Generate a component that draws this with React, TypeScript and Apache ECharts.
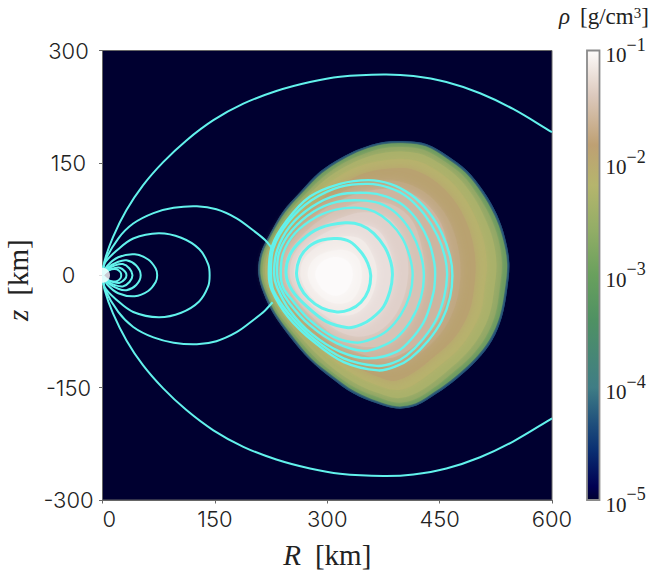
import React, { useEffect, useRef } from "react";
import * as echarts from "echarts";

type P = [number, number];

const xTicks = { min: 0, max: 600, interval: 150 };
const yTicks = { min: -300, max: 300, interval: 150 };

const colorStops: [number, string][] = [
  [0, "#000030"], [0.03, "#000052"], [0.11, "#0a2f72"], [0.17, "#1f4f7c"], [0.25, "#3f7d85"],
  [0.4, "#4f9163"], [0.5, "#69a05d"], [0.6, "#92ad66"], [0.7, "#b5b56d"], [0.79, "#bea073"],
  [0.9, "#dcc9bd"], [1, "#fdfbfa"],
];

const densityColors = ["#1f4a7a", "#6d9b60", "#8ea665", "#a9b16a", "#b7b26d", "#b9a270", "#c0a882", "#cdb5a0", "#d6c3b6", "#e0d0ca", "#e9dedb", "#f2ebe8", "#f8f4f2", "#fcfafa"];

const c1: P[] = [[208,2],[211,29],[224,56],[241,85],[264,111],[290,138],[317,156],[344,169],[375,178],[406,179],[433,175],[460,160],[486,140],[508,113],[526,82],[537,51],[543,16],[540,-20],[533,-56],[520,-87],[500,-113],[473,-138],[446,-158],[419,-174],[393,-178],[366,-171],[335,-158],[304,-136],[277,-113],[250,-82],[228,-51],[215,-24]];
const c2: P[] = [[211,2],[214,29],[227,56],[244,84],[267,110],[293,136],[320,154],[347,167],[376,175],[406,176],[432,172],[458,157],[484,137],[505,111],[523,80],[534,50],[540,16],[537,-19],[530,-55],[517,-85],[497,-111],[471,-135],[444,-155],[418,-171],[393,-175],[367,-168],[337,-155],[306,-133],[279,-111],[253,-80],[231,-50],[218,-23]];
const c2b: P[] = [[214,2],[217,28],[230,55],[247,82],[270,107],[296,132],[322,150],[349,162],[377,170],[406,171],[430,167],[455,153],[480,134],[500,108],[517,79],[528,49],[533,16],[530,-18],[524,-53],[511,-83],[492,-108],[466,-131],[441,-151],[416,-166],[393,-170],[369,-163],[339,-151],[308,-130],[282,-108],[256,-78],[234,-49],[221,-23]];
const c3: P[] = [[217,2],[220,28],[232,54],[250,80],[272,104],[298,128],[324,145],[350,157],[378,164],[405,165],[428,161],[452,148],[475,130],[495,105],[510,77],[521,48],[526,15],[523,-18],[517,-51],[504,-80],[486,-104],[461,-127],[437,-146],[413,-160],[392,-164],[370,-158],[341,-146],[310,-126],[285,-104],[258,-75],[237,-47],[224,-22]];
const c4: P[] = [[221,2],[225,26],[237,50],[255,76],[277,99],[302,122],[328,139],[354,149],[380,154],[404,155],[425,151],[447,139],[468,122],[486,99],[500,72],[509,45],[513,14],[510,-17],[505,-48],[492,-76],[475,-99],[451,-120],[429,-137],[408,-150],[390,-153],[371,-148],[344,-137],[314,-118],[290,-97],[264,-70],[243,-44],[229,-20]];
const c5: P[] = [[226,2],[230,24],[242,46],[260,70],[282,91],[306,113],[331,128],[356,138],[380,142],[403,143],[422,138],[442,127],[460,111],[476,90],[488,65],[495,40],[498,12],[496,-16],[491,-44],[479,-70],[463,-91],[441,-110],[421,-126],[402,-137],[387,-141],[370,-136],[346,-126],[318,-108],[295,-89],[270,-64],[249,-40],[234,-18]];
const c6: P[] = [[231,2],[236,28],[252,56],[279,85],[312,107],[350,122],[390,126],[428,112],[456,84],[472,48],[478,5],[471,-40],[451,-78],[418,-108],[385,-122],[345,-115],[312,-97],[280,-70],[254,-42],[237,-16]];
const c7: P[] = [[236,2],[241,27],[257,52],[284,79],[315,99],[352,112],[390,115],[423,103],[448,76],[460,44],[464,4],[458,-38],[440,-72],[410,-99],[380,-111],[345,-105],[314,-89],[285,-65],[258,-38],[241,-15]];
const c8: P[] = [[243,2],[247,26],[262,48],[288,72],[317,88],[350,98],[384,95],[411,76],[425,42],[430,2],[423,-38],[405,-72],[380,-92],[345,-95],[315,-84],[288,-63],[263,-38],[247,-15]];
const c9: P[] = [[250,2],[254,24],[268,44],[292,64],[320,77],[348,84],[378,78],[397,58],[406,30],[408,2],[402,-30],[388,-57],[368,-75],[342,-82],[316,-75],[292,-57],[270,-37],[255,-15]];
const c10: P[] = [[256,2],[260,22],[274,40],[296,56],[322,66],[346,68],[368,60],[381,40],[388,15],[388,-10],[380,-35],[365,-56],[345,-68],[320,-67],[296,-53],[275,-35],[262,-14]];
const c11: P[] = [[264,2],[268,20],[282,35],[302,46],[325,52],[345,48],[358,32],[366,8],[363,-18],[352,-40],[335,-52],[315,-53],[295,-44],[278,-28],[268,-12]];
const c12: P[] = [[274,2],[278,16],[290,27],[308,33],[326,33],[340,24],[346,6],[344,-14],[334,-32],[318,-38],[300,-34],[286,-23],[277,-10]];
const c13: P[] = [[284,2],[289,14],[300,22],[315,24],[328,18],[334,4],[331,-12],[322,-24],[308,-27],[295,-20],[287,-9]];
const densityContours = [c1, c2, c2b, c3, c4, c5, c6, c7, c8, c9, c10, c11, c12, c13];

const loopA: P[] = [[259,2],[263,22],[275,38],[293,47],[313,49],[330,45],[345,31],[354,16],[358,0],[355,-20],[345,-36],[330,-46],[313,-49],[293,-44],[275,-31],[264,-16]];
const loopB: P[] = [[245,2],[250,27],[266,47],[290,63],[324,70],[345,67],[362,56],[377,37],[385,17],[387,0],[384,-20],[375,-42],[359,-58],[345,-66],[328,-70],[299,-62],[273,-42],[253,-20]];
const loopC: P[] = [[238,2],[241,29],[257,56],[286,78],[313,88],[342,90],[363,85],[383,71],[400,50],[410,25],[414,0],[410,-27],[398,-53],[380,-74],[360,-85],[339,-90],[308,-82],[277,-60],[253,-33],[241,-16]];
const loopD: P[] = [[233,2],[236,31],[253,60],[282,85],[313,98],[344,100],[370,96],[393,82],[412,58],[424,30],[429,0],[425,-30],[412,-60],[392,-84],[370,-96],[348,-101],[313,-91],[277,-67],[250,-38],[237,-16]];
const loopE: P[] = [[229,2],[233,33],[250,65],[279,91],[313,107],[353,110],[379,105],[402,93],[422,71],[436,44],[443,16],[444,0],[442,-22],[431,-58],[415,-82],[393,-102],[355,-111],[317,-102],[279,-78],[250,-47],[233,-16]];
const loopF: P[] = [[225,2],[228,36],[248,71],[279,100],[317,118],[355,122],[382,117],[406,105],[429,82],[447,53],[457,25],[460,0],[456,-29],[446,-58],[428,-85],[406,-107],[388,-117],[366,-121],[322,-111],[282,-85],[250,-53],[228,-20]];
const loopG: P[] = [[222,2],[226,38],[246,73],[277,105],[317,122],[355,127],[384,122],[411,108],[435,85],[453,56],[464,25],[467,0],[464,-29],[453,-60],[435,-87],[411,-111],[393,-121],[368,-127],[322,-116],[282,-89],[248,-56],[226,-20]];
const torusLoops = [loopA, loopB, loopC, loopD, loopE, loopF, loopG];

const outerTop: P[] = [[0,0],[3,20],[14,51],[32,87],[54,120],[81,151],[112,180],[148,207],[188,229],[232,246],[277,258],[317,265],[375,268],[415,266],[459,258],[504,243],[548,222],[600,191]];
const outerBottom: P[] = [[0,0],[3,-20],[14,-51],[32,-87],[54,-120],[81,-151],[112,-180],[148,-207],[188,-229],[232,-246],[277,-258],[317,-265],[375,-268],[415,-266],[459,-258],[504,-243],[548,-222],[600,-191]];
const gapTop: P[] = [[0,0],[3,18],[21,49],[41,69],[68,83],[95,90],[126,92],[152,88],[179,76],[201,60],[217,47],[227,35]];
const gapBottom: P[] = [[0,0],[3,-18],[21,-49],[41,-69],[68,-83],[95,-90],[126,-92],[152,-88],[179,-76],[201,-60],[217,-47],[227,-36]];
const dipole1: P[] = [[0,0],[3,16],[19,33],[41,49],[75,56],[105,50],[129,35],[141,15],[143,0],[141,-15],[129,-35],[105,-50],[75,-56],[41,-49],[19,-33],[3,-16],[0,0]];
const dipole2: P[] = [[0,0],[6,12],[21,24],[43,28],[61,21],[71,9],[73,0],[71,-9],[61,-21],[43,-28],[21,-24],[6,-12],[0,0]];
const dipole3: P[] = [[0,0],[7,10],[21,18],[32,20],[45,13],[51,0],[45,-13],[32,-20],[21,-18],[7,-10],[0,0]];
const dipole4: P[] = [[0,0],[7,8],[16,13],[27,15],[36,9],[40,0],[36,-9],[27,-15],[16,-13],[7,-8],[0,0]];
const dipole5: P[] = [[0,0],[6,6],[14,9],[23,10],[30,5],[32,0],[30,-5],[23,-10],[14,-9],[6,-6],[0,0]];
const dipole6: P[] = [[0,0],[6,5],[12,8],[19,8],[24,4],[25,0],[24,-4],[19,-8],[12,-8],[6,-5],[0,0]];
const fieldLines = [outerTop, outerBottom, gapTop, gapBottom, dipole1, dipole2, dipole3, dipole4, dipole5, dipole6];

const innerBoundary: P[] = [[0, 0]];
const cbTicks = [1e-5, 1e-4, 1e-3, 1e-2, 1e-1];

const LINE = "#62f2ec";
const SERIF = "'Liberation Serif', serif";
const SANS = "Inter, 'Noto Sans', sans-serif";
const AXIS = "#666666";

// Draws a smooth curve through the read points, in pixel space.
function splineD(pts: number[][], closed: boolean) {
  const n = pts.length;
  const at = (i: number) => (closed ? pts[(i + n) % n] : pts[Math.max(0, Math.min(n - 1, i))]);
  const tangent = (i: number) => {
    const a = at(i - 1), b = at(i + 1);
    const dx = b[0] - a[0], dy = b[1] - a[1];
    const len = Math.hypot(dx, dy) || 1;
    return [dx / len, dy / len];
  };
  let d = `M${pts[0][0]} ${pts[0][1]}`;
  const segs = closed ? n : n - 1;
  for (let i = 0; i < segs; i++) {
    const p = at(i), q = at(i + 1);
    const len = Math.hypot(q[0] - p[0], q[1] - p[1]) / 3;
    const t0 = tangent(i), t1 = tangent(i + 1);
    d += `C${p[0] + t0[0] * len} ${p[1] + t0[1] * len} ${q[0] - t1[0] * len} ${q[1] - t1[1] * len} ${q[0]} ${q[1]}`;
  }
  return closed ? d + "Z" : d;
}

function curveSeries(points: P[], closed: boolean, style: any) {
  return {
    type: "custom",
    xAxisIndex: 0,
    yAxisIndex: 0,
    silent: true,
    clip: true,
    coordinateSystem: "cartesian2d",
    data: [points[0]],
    renderItem: (_: any, api: any) => ({
      type: "path",
      shape: { pathData: splineD(points.map((p) => api.coord(p)), closed) },
      style,
    }),
  };
}

export default function App() {
  const ref = useRef<HTMLDivElement>(null);
  useEffect(() => {
    const chart = echarts.init(ref.current!, undefined, { renderer: "svg" });
    const series: any[] = [];
    densityContours.forEach((pts, i) => {
      series.push(curveSeries(pts, true, { fill: densityColors[i], shadowBlur: i === 0 ? 1 : i < 3 ? 3 : 9, shadowColor: densityColors[i] }));
    });
    torusLoops.forEach((pts, i) => {
      series.push(curveSeries(pts, true, { fill: "none", stroke: LINE, lineWidth: i < 2 ? 3 : 2.4 }));
    });
    fieldLines.forEach((pts) => {
      series.push(curveSeries(pts, false, { fill: "none", stroke: LINE, lineWidth: 2 }));
    });
    series.push({
      type: "scatter",
      xAxisIndex: 0,
      yAxisIndex: 0,
      data: innerBoundary,
      symbol: "circle",
      symbolSize: 15,
      silent: true,
      clip: false,
      itemStyle: { color: "#ffffff" },
      z: 5,
    });
    series.push({
      type: "custom",
      xAxisIndex: 1,
      yAxisIndex: 1,
      silent: true,
      data: [[0, cbTicks[0]]],
      renderItem: (_: any, api: any) => {
        const bottom = api.coord([0, cbTicks[0]]);
        const top = api.coord([1, cbTicks[4]]);
        return {
          type: "rect",
          shape: { x: bottom[0], y: top[1], width: top[0] - bottom[0], height: bottom[1] - top[1] },
          style: {
            fill: new echarts.graphic.LinearGradient(0, 1, 0, 0, colorStops.map(([offset, color]) => ({ offset, color }))),
            stroke: "#8a8a8a",
            lineWidth: 1.8,
          },
        };
      },
    });

    const titleRich = (pad: number, trail: number) => ({
      i: { fontFamily: SERIF, fontStyle: "italic", fontSize: 29, color: "#222", padding: [0, pad, 0, 0] },
      t: { fontFamily: SERIF, fontSize: 29, color: "#222", padding: [0, trail, 0, 0] },
    });

    chart.setOption({
      animation: false,
      backgroundColor: "#ffffff",
      grid: [
        { left: 102.5, top: 50.5, width: 449.5, height: 449.5, outerBoundsMode: "none", show: true, backgroundColor: "#000030", borderColor: AXIS, borderWidth: 1 },
        { left: 587, top: 50.5, width: 12.5, height: 449.5, outerBoundsMode: "none", show: false },
      ],
      xAxis: [
        {
          type: "value", gridIndex: 0, ...xTicks,
          splitLine: { show: false },
          axisLine: { onZero: false, lineStyle: { color: AXIS, width: 1 } },
          axisTick: { length: 3.5, lineStyle: { color: AXIS } },
          axisLabel: { fontFamily: SANS, fontWeight: 300, fontSize: 22, color: "#222", margin: 8, alignMinLabel: "left", hideOverlap: false },
          name: "{i|R}{t|[km]}",
          nameLocation: "middle",
          nameGap: 40,
          nameTextStyle: { rich: titleRich(14, 0) },
        },
        { type: "value", gridIndex: 1, min: 0, max: 1, show: false },
      ],
      yAxis: [
        {
          type: "value", gridIndex: 0, ...yTicks,
          splitLine: { show: false },
          axisLine: { onZero: false, lineStyle: { color: AXIS, width: 1 } },
          axisTick: { length: 3.5, lineStyle: { color: AXIS } },
          axisLabel: { fontFamily: SANS, fontWeight: 300, fontSize: 22, color: "#222", margin: 34, align: "center" },
          name: "{i|z}{t|[km]}",
          nameLocation: "middle",
          nameGap: 62,
          nameTextStyle: { rich: titleRich(14, 10) },
        },
        {
          type: "log", gridIndex: 1, min: 1e-5, max: 1e-1, logBase: 10, position: "right",
          splitLine: { show: false },
          axisLine: { show: false },
          minorTick: { show: false },
          axisTick: { inside: false, length: 4, lineStyle: { color: AXIS } },
          axisLabel: {
            margin: 6,
            fontFamily: SERIF,
            fontSize: 21,
            color: "#222",
            hideOverlap: false,
            formatter: (v: number) => `{base|10}{sup|−${Math.round(-Math.log10(v))}}`,
            rich: {
              base: { fontFamily: SERIF, fontSize: 21, color: "#222", lineHeight: 24, verticalAlign: "bottom" },
              sup: { fontFamily: SERIF, fontSize: 18, color: "#222", lineHeight: 30, verticalAlign: "top" },
            },
          },
        },
      ],
      graphic: [
        {
          type: "text",
          left: 559,
          top: 5,
          style: {
            text: "{i|ρ}{t|[g/cm}{s|3}{t|]}",
            rich: {
              i: { fontFamily: SERIF, fontStyle: "italic", fontSize: 23, fill: "#222", verticalAlign: "bottom", padding: [0, 10, 0, 0] },
              t: { fontFamily: SERIF, fontSize: 23, fill: "#222", verticalAlign: "bottom" },
              s: { fontFamily: SERIF, fontSize: 15, fill: "#222", verticalAlign: "top" },
            },
          },
        },
      ],
      series,
    });
    return () => chart.dispose();
  }, []);
  return <div ref={ref} style={{ position: "absolute", left: 0, top: 0, width: 652, height: 571 }} />;
}
